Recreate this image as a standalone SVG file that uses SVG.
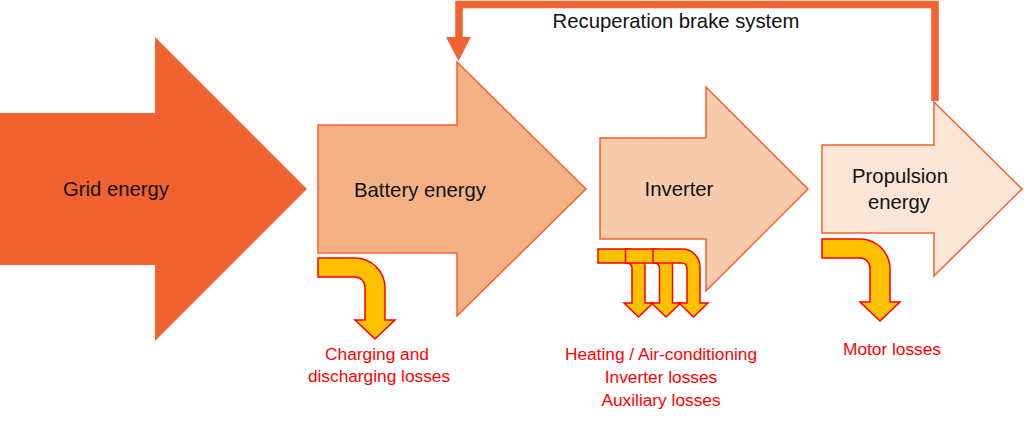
<svg xmlns="http://www.w3.org/2000/svg" xmlns:xlink="http://www.w3.org/1999/xlink" width="1024" height="441" viewBox="0 0 1024 441">
<style>
.lbl{font-family:"Liberation Sans",Arial,sans-serif;font-size:20.3px;fill:#111;text-anchor:middle}
.loss{font-family:"Liberation Sans",Arial,sans-serif;font-size:17.3px;fill:#FF0000;text-anchor:middle}
.bent{fill:#FFC000;stroke:#FF0000;stroke-width:1.5;stroke-linejoin:miter}
.main{stroke:#F26130;stroke-width:1.5;stroke-linejoin:miter}
</style>
<defs>
<path id="small" class="bent" d="M0,249 H29 A18,18 0 0 1 47,267 V303 H55 L40.5,317 L26,303 H34 V268 A5,5 0 0 0 29,263 H0 Z"/>
</defs>
<rect width="1024" height="441" fill="#FFFFFF"/>
<g id="grid">
<polygon points="-2,113 155,113 155,37 307,189 155,341 155,265 -2,265" fill="#F26130"/>
<text class="lbl" x="116" y="196">Grid energy</text>
</g>
<g id="battery">
<polygon class="main" points="318,125 457,125 457,62 586,189 457,316 457,253 318,253" fill="#F4B183"/>
<text class="lbl" x="420" y="197">Battery energy</text>
</g>
<g id="inverter">
<polygon class="main" points="600,138 706,138 706,87 808,189 706,291 706,239 600,239" fill="#F8CBAD"/>
<text class="lbl" x="679" y="196">Inverter</text>
</g>
<g id="propulsion">
<polygon class="main" points="822,145 934,145 934,102 1022,189 934,276 934,233 822,233" fill="#FBE5D6"/>
<text class="lbl" x="900" y="183">Propulsion</text>
<text class="lbl" x="899" y="209">energy</text>
</g>
<g id="connectors">
<polyline points="935,101 935,4.5 459,4.5 459,38" fill="none" stroke="#F26130" stroke-width="7.5"/>
<polygon points="446,37 471,37 458.5,61" fill="#F26130"/>
<text class="lbl" x="676" y="28">Recuperation brake system</text>
</g>
<g id="battery-loss">
<path class="bent" d="M318,258 H355 A30,30 0 0 1 385,288 V320 H395 L375,339 L355,320 H365 V287 A10,10 0 0 0 355,277 H318 Z"/>
<text class="loss" x="377" y="360">Charging and</text>
<text class="loss" x="379" y="382">discharging losses</text>
</g>
<g id="inverter-loss">
<use xlink:href="#small" x="598"/>
<use xlink:href="#small" x="625.5"/>
<use xlink:href="#small" x="653"/>
<text class="loss" x="661" y="360">Heating / Air-conditioning</text>
<text class="loss" x="661" y="383">Inverter losses</text>
<text class="loss" x="661" y="406">Auxiliary losses</text>
</g>
<g id="propulsion-loss">
<path class="bent" d="M822,239 H860 A30,30 0 0 1 890,269 V302 H900 L880,321 L860,302 H870 V268 A10,10 0 0 0 860,258 H822 Z"/>
<text class="loss" x="892" y="355">Motor losses</text>
</g>
</svg>
